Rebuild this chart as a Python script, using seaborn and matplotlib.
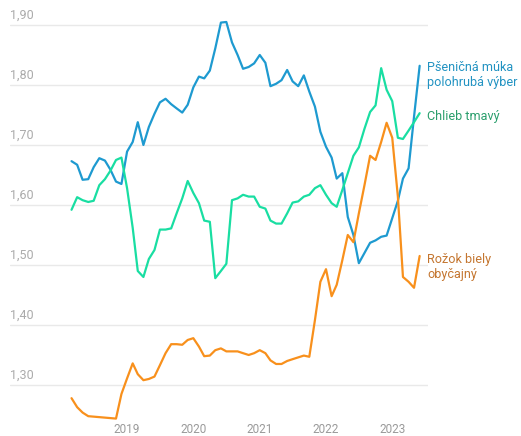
import numpy as np
import pandas as pd
import matplotlib
matplotlib.use("Agg")
import matplotlib.pyplot as plt
import matplotlib.transforms as mtransforms
import seaborn as sns

# ---- data (monthly, Mar 2018 - Jun 2023) ----
start_month = "2018-03-01"
n_months = 64

muka = [1.673, 1.667, 1.642, 1.643, 1.663, 1.678, 1.674, 1.659, 1.639, 1.635,
        1.689, 1.705, 1.738, 1.700, 1.730, 1.752, 1.771, 1.777, 1.768, 1.761,
        1.754, 1.767, 1.796, 1.814, 1.811, 1.824, 1.861, 1.904, 1.905, 1.871,
        1.850, 1.827, 1.830, 1.836, 1.850, 1.837, 1.798, 1.802, 1.808, 1.825,
        1.806, 1.798, 1.816, 1.789, 1.764, 1.722, 1.697, 1.679, 1.644, 1.653,
        1.580, 1.550, 1.503, 1.520, 1.537, 1.541, 1.547, 1.549, 1.578, 1.607,
        1.644, 1.661, 1.747, 1.832]

chlieb = [1.592, 1.613, 1.608, 1.605, 1.607, 1.633, 1.643, 1.657, 1.675, 1.679,
          1.628, 1.562, 1.490, 1.480, 1.510, 1.525, 1.559, 1.559, 1.561, 1.586,
          1.611, 1.640, 1.620, 1.603, 1.574, 1.572, 1.478, 1.490, 1.502, 1.608,
          1.611, 1.617, 1.614, 1.614, 1.597, 1.594, 1.574, 1.569, 1.569, 1.586,
          1.604, 1.606, 1.614, 1.617, 1.628, 1.633, 1.617, 1.603, 1.597, 1.625,
          1.653, 1.682, 1.696, 1.727, 1.755, 1.766, 1.828, 1.792, 1.773, 1.712,
          1.710, 1.724, 1.738, 1.753]

rozok = [1.278, 1.263, 1.254, 1.248, np.nan, np.nan, np.nan, np.nan, 1.244, 1.285,
         1.311, 1.336, 1.318, 1.308, 1.310, 1.314, 1.333, 1.353, 1.368, 1.368,
         1.367, 1.375, 1.378, 1.364, 1.348, 1.349, 1.358, 1.361, 1.356, 1.356,
         1.356, 1.353, 1.350, 1.353, 1.358, 1.353, 1.341, 1.335, 1.335, 1.340,
         1.343, 1.346, 1.349, 1.347, 1.408, 1.472, 1.493, 1.448, 1.467, 1.508,
         1.550, 1.538, 1.586, 1.633, 1.682, 1.675, 1.705, 1.737, 1.712, 1.614,
         1.480, 1.472, 1.462, 1.515]

series_names = ["Pšeničná múka\npolohrubá výber", "Chlieb tmavý", "Rožok biely\nobyčajný"]
label_y = [1.817, 1.747, 1.497]
y_ticks = [1.30, 1.40, 1.50, 1.60, 1.70, 1.80, 1.90]
y_tick_labels = ["1,30", "1,40", "1,50", "1,60", "1,70", "1,80", "1,90"]
x_ticks = ["2019", "2020", "2021", "2022", "2023"]

line_colors = ["#1e9ad0", "#19dea2", "#f8901c"]
text_colors = ["#2293c2", "#2a9e6c", "#c47630"]

# ---- build table ----
dates = pd.date_range(start_month, periods=n_months, freq="MS")
frames = []
for name, vals in zip(series_names, [muka, chlieb, rozok]):
    frames.append(pd.DataFrame({"date": dates, "value": vals, "series": name}))
df = pd.concat(frames).dropna()

sns.set_theme(style="white")
plt.rcParams["font.family"] = ["Roboto", "DejaVu Sans"]

fig = plt.figure(figsize=(5.21, 4.36), dpi=100)
ax = fig.add_axes([10 / 521, 14 / 436, 418 / 521, 417 / 436])

sns.lineplot(data=df, x="date", y="value", hue="series", palette=line_colors,
             hue_order=series_names, estimator=None, sort=True, linewidth=1.6,
             legend=False, ax=ax)

ax.set_xlim(pd.Timestamp("2017-03-27"), pd.Timestamp("2023-07-17"))
ax.set_ylim(1.2383, 1.9333)

# gridlines
for yv in y_ticks:
    ax.axhline(yv, color="#e9e9e9", linewidth=1.0, zorder=0)
ax.set_yticks([])
ax.set_ylabel("")
ax.set_xlabel("")

# y tick labels above gridlines
trans = mtransforms.blended_transform_factory(ax.transAxes, ax.transData)
offset = mtransforms.ScaledTranslation(0, 3 / 100, fig.dpi_scale_trans)
for yv, lab in zip(y_ticks, y_tick_labels):
    ax.text(0.0, yv, lab, transform=trans + offset, ha="left", va="bottom",
            fontsize=9, color="#ababab")

# x ticks
ax.set_xticks([pd.Timestamp(f"{y}-01-01") for y in x_ticks])
ax.set_xticklabels(x_ticks)
ax.tick_params(axis="x", length=0, pad=0.5, labelsize=8.5, labelcolor="#9a9a9a")

for s in ax.spines.values():
    s.set_visible(False)

# end labels
last_date = dates[-1]
for name, yv, col in zip(series_names, label_y, text_colors):
    ax.annotate(name, xy=(last_date, yv), xytext=(5.5, 0), textcoords="offset points",
                ha="left", va="center", fontsize=9.1, color=col,
                annotation_clip=False, linespacing=1.2)

fig.savefig("out.png", dpi=100)
